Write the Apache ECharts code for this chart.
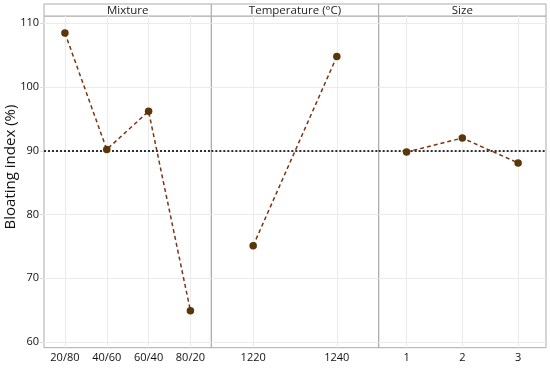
<!DOCTYPE html>
<html><head><meta charset="utf-8">
<script src="https://cdn.jsdelivr.net/npm/echarts@6/dist/echarts.min.js"></script>
<style>html,body{margin:0;padding:0;background:#fff}#c{width:550px;height:368px}</style>
</head><body><div id="c"></div>
<script>
const panelTitles = ['Mixture', 'Temperature (°C)', 'Size'];
const mixtureCats = ['20/80', '40/60', '60/40', '80/20'];
const mixtureVals = [108.5, 90.2, 96.2, 64.9];
const tempCats = ['1220', '1240'];
const tempVals = [75.1, 104.8];
const sizeCats = ['1', '2', '3'];
const sizeVals = [89.8, 92.0, 88.1];
const meanValue = 90;
const yTicks = [60, 70, 80, 90, 100, 110];
const yTitle = 'Bloating index (%)';

const FONT = '"Open Sans", "Noto Sans", sans-serif';
const panels = [[mixtureCats, mixtureVals], [tempCats, tempVals], [sizeCats, sizeVals]];
const L = 44, R = 546, TOP = 16, BOT = 347.7, HT = 4;
const W = (R - L) / 3;

const grids = [], xAxes = [], yAxes = [], series = [], graphics = [];
panels.forEach((p, i) => {
  const left = L + i * W;
  grids.push({left: left, width: W, top: TOP, height: BOT - TOP, show: true, borderColor: '#ababab', borderWidth: 1, containLabel: false});
  xAxes.push({
    type: 'category', gridIndex: i, data: p[0], boundaryGap: true,
    axisLine: {show: false}, axisTick: {show: false},
    axisLabel: {color: '#111', fontSize: 11, fontFamily: FONT, margin: 5},
    splitLine: {show: true, alignWithLabel: true, lineStyle: {color: '#ebebeb', width: 1}}
  });
  yAxes.push({
    type: 'value', gridIndex: i, min: 59.1, max: 111.15,
    axisLine: {show: false},
    axisTick: {show: i === 0, length: 4, lineStyle: {color: '#dcdcdc'}, customValues: yTicks},
    axisLabel: {show: i === 0, color: '#111', fontSize: 11, fontFamily: FONT, margin: 5, customValues: yTicks},
    splitLine: {show: true, lineStyle: {color: '#ebebeb', width: 1}},
    customValues: yTicks
  });
  series.push({
    type: 'line', xAxisIndex: i, yAxisIndex: i, data: p[1],
    symbol: 'circle', symbolSize: 7.5,
    itemStyle: {color: '#5a3608'},
    lineStyle: {color: '#7a3514', width: 1.5, type: [4, 3]},
    z: 5,
    markLine: {
      silent: true, symbol: 'none', label: {show: false},
      lineStyle: {color: '#000', width: 1.6, type: [2, 2]},
      data: [{yAxis: meanValue}]
    }
  });
  graphics.push({
    type: 'rect', shape: {x: left, y: HT, width: W, height: TOP - HT},
    style: {fill: '#fff', stroke: '#ababab', lineWidth: 1}
  });
  graphics.push({
    type: 'text', x: left + W / 2, y: (HT + TOP) / 2 + 0.5,
    style: {text: panelTitles[i], fill: '#222', font: '11.5px ' + FONT, textAlign: 'center', textVerticalAlign: 'middle'}
  });
});
graphics.push({
  type: 'text', x: 11, y: 167, rotation: Math.PI / 2,
  style: {text: yTitle, fill: '#111', font: '15px ' + FONT, textAlign: 'center', textVerticalAlign: 'middle'}
});

const chart = echarts.init(document.getElementById('c'), null, {renderer: 'canvas'});
chart.setOption({
  animation: false,
  backgroundColor: '#fff',
  grid: grids, xAxis: xAxes, yAxis: yAxes, series: series,
  graphic: graphics
});
</script></body></html>
